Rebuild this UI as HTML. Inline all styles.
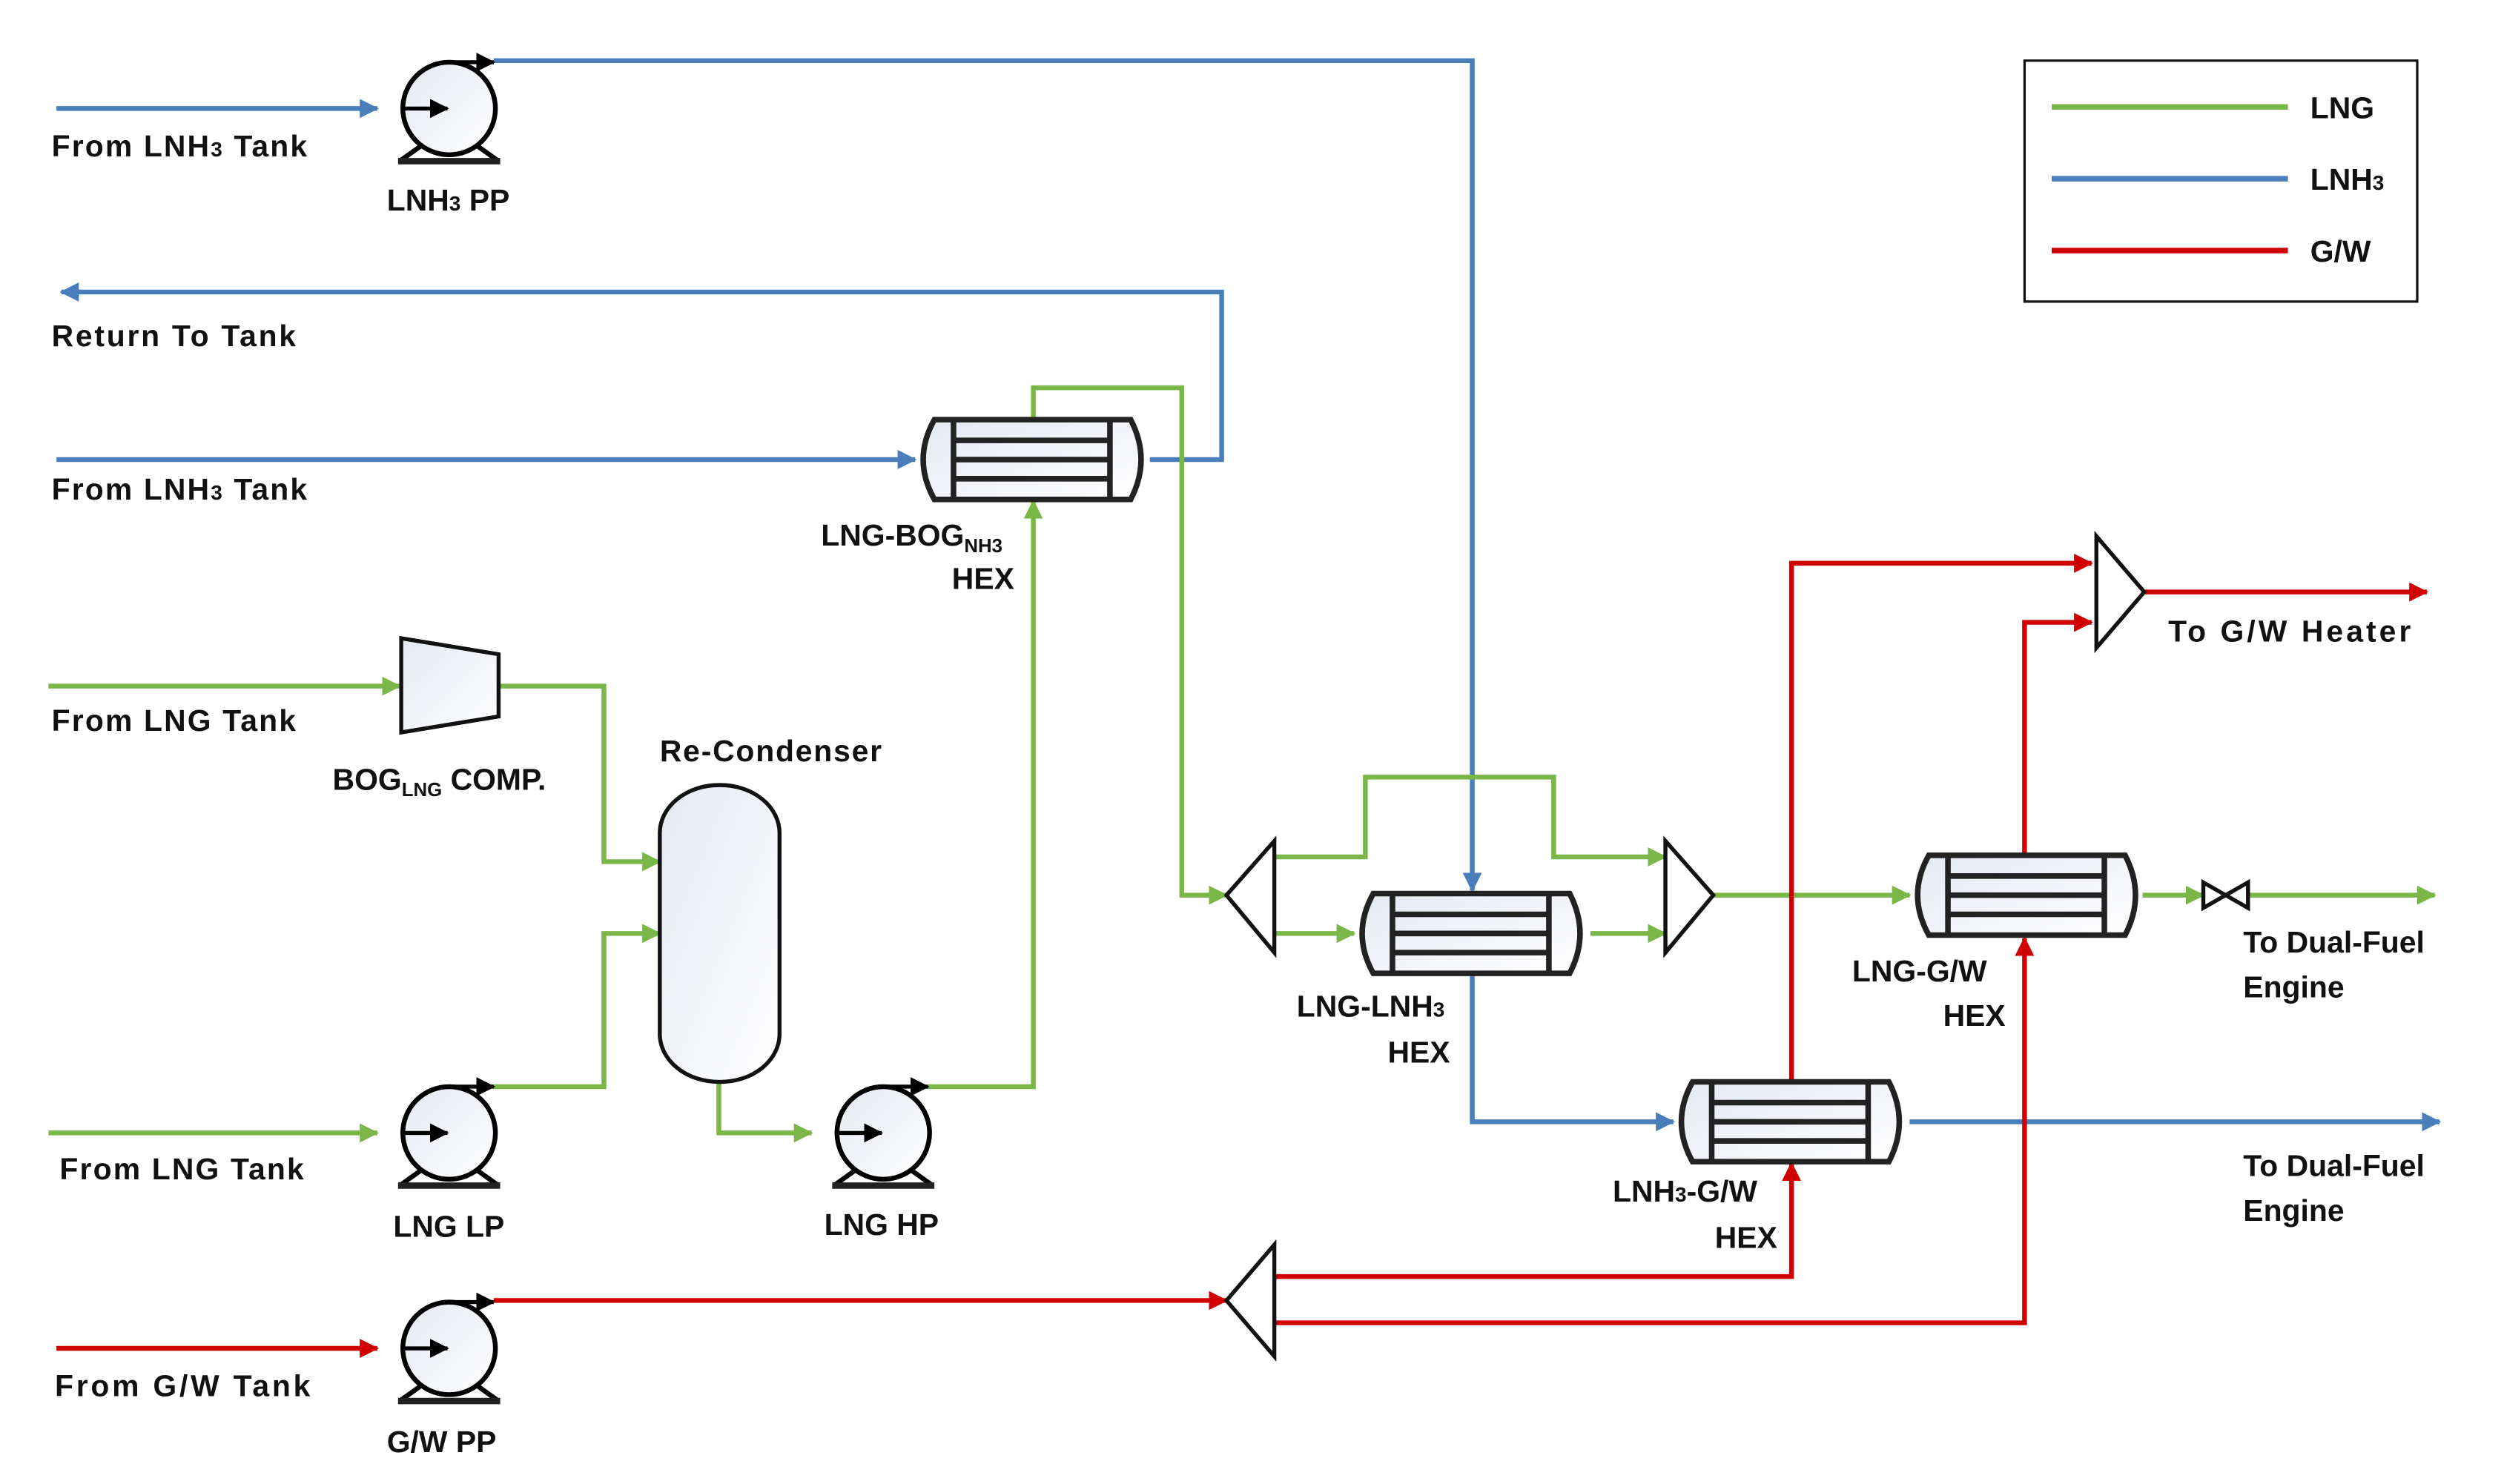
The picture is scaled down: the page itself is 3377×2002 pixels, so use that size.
<!DOCTYPE html>
<html><head><meta charset="utf-8"><style>
html,body{margin:0;padding:0;background:#fff;}
svg{display:block;}
text{font-family:"Liberation Sans",sans-serif;font-weight:bold;font-size:19px;fill:#111;}
</style></head><body>
<svg width="3377" height="2002" viewBox="0 0 1568 930" xmlns="http://www.w3.org/2000/svg">
<defs>
<marker id="ag" markerUnits="userSpaceOnUse" markerWidth="14" markerHeight="14" refX="11" refY="6" orient="auto"><path d="M0,0 L12,6 L0,12 Z" fill="#7ab648"/></marker>
<marker id="ab" markerUnits="userSpaceOnUse" markerWidth="14" markerHeight="14" refX="11" refY="6" orient="auto"><path d="M0,0 L12,6 L0,12 Z" fill="#4a7ebb"/></marker>
<marker id="ar" markerUnits="userSpaceOnUse" markerWidth="14" markerHeight="14" refX="11" refY="6" orient="auto"><path d="M0,0 L12,6 L0,12 Z" fill="#d00000"/></marker>
<marker id="ak" markerUnits="userSpaceOnUse" markerWidth="14" markerHeight="14" refX="11" refY="6" orient="auto"><path d="M0,0 L12,6 L0,12 Z" fill="#000"/></marker>
<linearGradient id="gf" x1="0" y1="0" x2="1" y2="1"><stop offset="0" stop-color="#e4e8f2"/><stop offset="1" stop-color="#fff"/></linearGradient>
<g id="pump">
<circle cx="0" cy="0" r="29" fill="url(#gf)" stroke="#000" stroke-width="3"/>
<path d="M-17,23 L-31,33 M17,23 L31,33" stroke="#000" stroke-width="3"/>
<rect x="-32" y="31" width="64" height="4" fill="#222"/>
<line x1="-30" y1="0" x2="-1" y2="0" stroke="#000" stroke-width="2.5" marker-end="url(#ak)"/>
<line x1="0" y1="-29" x2="28" y2="-29" stroke="#000" stroke-width="2.5" marker-end="url(#ak)"/>
</g>
<g id="hex">
<path d="M12,0 L135,0 Q148,25 135,50 L12,50 Q-2,25 12,0 Z" fill="url(#gf)" stroke="#222" stroke-width="3.5"/>
<path d="M24,0 V50 M122,0 V50 M24,13 H122 M24,25 H122 M24,37 H122" stroke="#222" stroke-width="3.5"/>
</g>
</defs>

<g fill="none" stroke-width="3">
<!-- Blue -->
<path d="M35,68 H236" stroke="#4a7ebb" marker-end="url(#ab)"/>
<path d="M309,38 H922 V558" stroke="#4a7ebb" marker-end="url(#ab)"/>
<path d="M720,288 H765 V183 H38" stroke="#4a7ebb" marker-end="url(#ab)"/>
<path d="M35,288 H573" stroke="#4a7ebb" marker-end="url(#ab)"/>
<path d="M922,610 V703 H1048" stroke="#4a7ebb" marker-end="url(#ab)"/>
<path d="M1196,703 H1528" stroke="#4a7ebb" marker-end="url(#ab)"/>
<!-- Green -->
<path d="M30,430 H250" stroke="#7ab648" marker-end="url(#ag)"/>
<path d="M312,430 H378 V540 H413" stroke="#7ab648" marker-end="url(#ag)"/>
<path d="M30,710 H236" stroke="#7ab648" marker-end="url(#ag)"/>
<path d="M309,681 H378 V585 H413" stroke="#7ab648" marker-end="url(#ag)"/>
<path d="M450,678 V710 H508" stroke="#7ab648" marker-end="url(#ag)"/>
<path d="M581,681 H647 V314" stroke="#7ab648" marker-end="url(#ag)"/>
<path d="M647,262 V243 H740 V561 H768" stroke="#7ab648" marker-end="url(#ag)"/>
<path d="M798,537 H855 V487 H973 V537 H1043" stroke="#7ab648" marker-end="url(#ag)"/>
<path d="M798,585 H848" stroke="#7ab648" marker-end="url(#ag)"/>
<path d="M996,585 H1043" stroke="#7ab648" marker-end="url(#ag)"/>
<path d="M1073,561 H1196" stroke="#7ab648" marker-end="url(#ag)"/>
<path d="M1342,561 H1380" stroke="#7ab648" marker-end="url(#ag)"/>
<path d="M1408,561 H1525" stroke="#7ab648" marker-end="url(#ag)"/>
<!-- Red -->
<path d="M35,845 H236" stroke="#d00000" marker-end="url(#ar)"/>
<path d="M309,815 H768" stroke="#d00000" marker-end="url(#ar)"/>
<path d="M798,800 H1122 V729" stroke="#d00000" marker-end="url(#ar)"/>
<path d="M798,829 H1268 V588" stroke="#d00000" marker-end="url(#ar)"/>
<path d="M1122,678 V353 H1310" stroke="#d00000" marker-end="url(#ar)"/>
<path d="M1268,536 V390 H1310" stroke="#d00000" marker-end="url(#ar)"/>
<path d="M1343,371 H1520" stroke="#d00000" marker-end="url(#ar)"/>
</g>

<!-- Equipment -->
<use href="#pump" x="281" y="68"/>
<use href="#pump" x="281" y="710"/>
<use href="#pump" x="553" y="710"/>
<use href="#pump" x="281" y="845"/>
<use href="#hex" x="573" y="263"/>
<use href="#hex" x="848" y="560"/>
<use href="#hex" x="1196" y="536"/>
<use href="#hex" x="1048" y="678"/>
<path d="M251,400 L312,410 L312,449 L251,459 Z" fill="url(#gf)" stroke="#111" stroke-width="2.5"/>
<rect x="413" y="492" width="75" height="186" rx="37" ry="30" fill="url(#gf)" stroke="#111" stroke-width="2.5"/>
<g fill="#fff" stroke="#111" stroke-width="2.5">
<path d="M768,561 L798,527 L798,597 Z"/>
<path d="M1043,527 L1073,561 L1043,597 Z"/>
<path d="M768,815 L798,780 L798,850 Z"/>
<path d="M1313,336 L1343,371 L1313,406 Z"/>
<path d="M1380,553 L1408,569 L1408,553 L1380,569 Z"/>
</g>

<!-- Labels -->
<text x="32" y="98" textLength="160">From LNH<tspan font-size="13">3</tspan> Tank</text>
<text x="242" y="132">LNH<tspan font-size="13">3</tspan> PP</text>
<text x="32" y="217" textLength="153">Return To Tank</text>
<text x="32" y="313" textLength="160">From LNH<tspan font-size="13">3</tspan> Tank</text>
<text x="514" y="342">LNG-BOG<tspan font-size="12" dy="4">NH3</tspan></text>
<text x="596" y="369">HEX</text>
<text x="32" y="458" textLength="153">From LNG Tank</text>
<text x="208" y="495">BOG<tspan font-size="12" dy="4">LNG</tspan><tspan dy="-4"> COMP.</tspan></text>
<text x="413" y="477" textLength="139">Re-Condenser</text>
<text x="37" y="739" textLength="153">From LNG Tank</text>
<text x="246" y="775">LNG LP</text>
<text x="516" y="774">LNG HP</text>
<text x="34" y="875" textLength="160">From G/W Tank</text>
<text x="242" y="910">G/W PP</text>
<text x="812" y="637">LNG-LNH<tspan font-size="13">3</tspan></text>
<text x="869" y="666">HEX</text>
<text x="1160" y="615">LNG-G/W</text>
<text x="1217" y="643">HEX</text>
<text x="1010" y="753">LNH<tspan font-size="13">3</tspan>-G/W</text>
<text x="1074" y="782">HEX</text>
<text x="1358" y="402" textLength="152">To G/W Heater</text>
<text x="1405" y="597">To Dual-Fuel</text>
<text x="1405" y="625">Engine</text>
<text x="1405" y="737">To Dual-Fuel</text>
<text x="1405" y="765">Engine</text>

<!-- Legend -->
<rect x="1268" y="38" width="246" height="151" fill="#fff" stroke="#111" stroke-width="1.5"/>
<path d="M1285,67 H1433" stroke="#7ab648" stroke-width="3.5"/>
<path d="M1285,112 H1433" stroke="#4a7ebb" stroke-width="3.5"/>
<path d="M1285,157 H1433" stroke="#d00000" stroke-width="3.5"/>
<text x="1447" y="74">LNG</text>
<text x="1447" y="119">LNH<tspan font-size="13">3</tspan></text>
<text x="1447" y="164">G/W</text>
</svg>
</body></html>
